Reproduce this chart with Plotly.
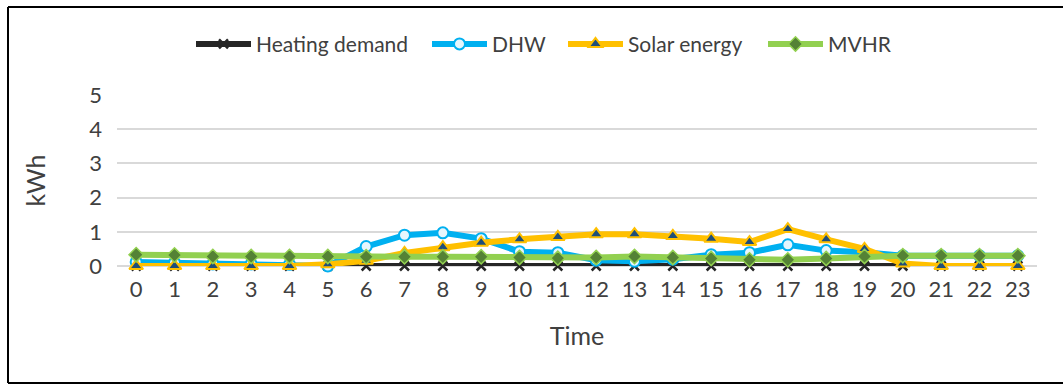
import plotly.graph_objects as go

hours = [str(h) for h in range(24)]

heating_demand = [0] * 24
dhw = [0.12, 0.1, 0.06, 0.06, 0.05, 0.0, 0.57, 0.9, 0.97, 0.8, 0.42, 0.39,
       0.17, 0.14, 0.2, 0.33, 0.39, 0.62, 0.45, 0.4, 0.3, 0.3, 0.3, 0.3]
solar = [0, 0, 0, 0, 0, 0.05, 0.15, 0.38, 0.55, 0.68, 0.78, 0.85,
         0.93, 0.93, 0.88, 0.8, 0.7, 1.08, 0.78, 0.5, 0.07, 0, 0, 0]
mvhr = [0.33, 0.32, 0.28, 0.28, 0.28, 0.28, 0.27, 0.27, 0.27, 0.27, 0.25, 0.23,
        0.25, 0.28, 0.25, 0.22, 0.18, 0.18, 0.22, 0.28, 0.3, 0.3, 0.3, 0.3]

FONT = "Lato"
TXT = "#404040"

fig = go.Figure()
fig.add_trace(go.Scatter(
    x=hours, y=heating_demand, name="Heating demand", mode="lines+markers",
    legend="legend",
    line=dict(color="#262626", width=6),
    marker=dict(symbol="x-thin", size=9, line=dict(color="#262626", width=2.5))))
fig.add_trace(go.Scatter(
    x=hours, y=dhw, name="DHW", mode="lines+markers", legend="legend2",
    line=dict(color="#00B0F0", width=6),
    marker=dict(symbol="circle", size=11, color="#E6F6FD",
                line=dict(color="#00B0F0", width=2))))
fig.add_trace(go.Scatter(
    x=hours, y=solar, name="Solar energy", mode="lines+markers", legend="legend3",
    line=dict(color="#FFC000", width=6),
    marker=dict(symbol="triangle-up", size=12, color="#1F4E79",
                line=dict(color="#FFC000", width=2))))
fig.add_trace(go.Scatter(
    x=hours, y=mvhr, name="MVHR", mode="lines+markers", legend="legend4",
    line=dict(color="#92D050", width=6),
    marker=dict(symbol="diamond", size=11, color="#548235",
                line=dict(color="#92D050", width=1.5))))

fig.update_traces(cliponaxis=False)


def legend_at(px):
    return dict(orientation="h", xref="container", yref="container",
                x=px / 1063, xanchor="left", y=0.885, yanchor="middle",
                font=dict(size=21, color=TXT), itemwidth=55,
                bgcolor="rgba(0,0,0,0)")


fig.update_layout(
    width=1063, height=385,
    margin=dict(l=117, r=26, t=95, b=119),
    paper_bgcolor="white", plot_bgcolor="white",
    font=dict(family=FONT, color=TXT, size=21),
    showlegend=True,
    legend=legend_at(191),
    legend2=legend_at(427),
    legend3=legend_at(563),
    legend4=legend_at(763),
    xaxis=dict(type="category", range=[-0.5, 23.5], showgrid=False,
               showline=False, ticks="", ticklabelstandoff=8,
               tickfont=dict(size=22, color=TXT),
               title=dict(text="Time", font=dict(size=25, color=TXT), standoff=26)),
    yaxis=dict(range=[0, 5], dtick=1, showgrid=True, gridcolor="#D9D9D9",
               gridwidth=1.5, zeroline=True, zerolinecolor="#D9D9D9",
               zerolinewidth=1.5, showline=False, ticks="",
               ticklabelstandoff=14, tickfont=dict(size=22, color=TXT),
               title=dict(text="kWh", font=dict(size=25, color=TXT), standoff=36)),
)

# frame around the chart (top, left, bottom edges)
x0 = (8 - 117) / 920
x1 = (1063 - 117) / 920
yt = (266 - 7) / 171
yb = (266 - 383) / 171
for seg in [(x0, yt, x1, yt), (x0, yt, x0, yb), (x0, yb, x1, yb)]:
    fig.add_shape(type="line", xref="paper", yref="paper",
                  x0=seg[0], y0=seg[1], x1=seg[2], y1=seg[3],
                  line=dict(color="black", width=2))

fig.write_html("out.html")
